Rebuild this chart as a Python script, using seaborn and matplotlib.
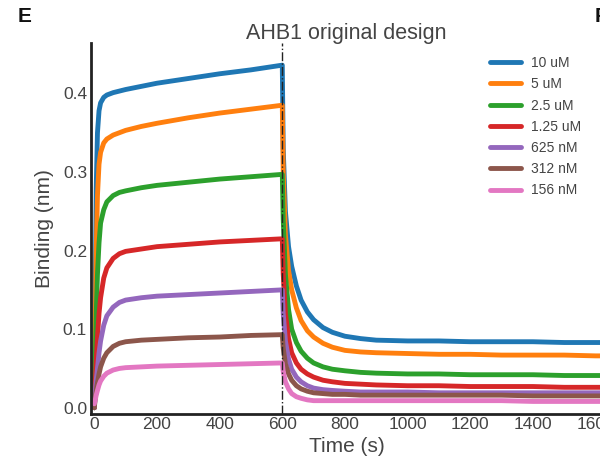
import pandas as pd
import numpy as np
import seaborn as sns
import matplotlib.pyplot as plt

# concentrations, highest first
labels = ["10 uM", "5 uM", "2.5 uM", "1.25 uM", "625 nM", "312 nM", "156 nM"]
colors = ["#1f77b4", "#ff7f0e", "#2ca02c", "#d62728", "#9467bd", "#8c564b", "#e377c2"]

# association phase (s)
assoc_t = [0, 3, 6, 10, 15, 20, 30, 40, 60, 80, 100, 150, 200, 300, 400, 500, 600]
# dissociation phase (s)
dissoc_t = [603, 610, 620, 630, 645, 660, 680, 700, 730, 760, 800, 850, 900,
            1000, 1100, 1200, 1300, 1400, 1500, 1600, 1620]

assoc = {
    "10 uM":   [0.0, 0.15, 0.28, 0.35, 0.378, 0.388, 0.395, 0.398, 0.401, 0.403, 0.405, 0.409, 0.413, 0.419, 0.425, 0.430, 0.436],
    "5 uM":    [0.0, 0.10, 0.20, 0.27, 0.31, 0.325, 0.337, 0.342, 0.347, 0.350, 0.353, 0.358, 0.362, 0.369, 0.375, 0.380, 0.385],
    "2.5 uM":  [0.0, 0.06, 0.12, 0.17, 0.21, 0.235, 0.252, 0.262, 0.270, 0.274, 0.276, 0.280, 0.283, 0.287, 0.291, 0.294, 0.297],
    "1.25 uM": [0.0, 0.03, 0.06, 0.09, 0.12, 0.14, 0.165, 0.178, 0.19, 0.196, 0.199, 0.202, 0.205, 0.208, 0.211, 0.213, 0.215],
    "625 nM":  [0.0, 0.02, 0.035, 0.05, 0.07, 0.085, 0.105, 0.117, 0.128, 0.134, 0.137, 0.140, 0.142, 0.144, 0.146, 0.148, 0.150],
    "312 nM":  [0.0, 0.012, 0.022, 0.032, 0.043, 0.052, 0.063, 0.070, 0.078, 0.082, 0.084, 0.086, 0.087, 0.089, 0.090, 0.092, 0.093],
    "156 nM":  [0.005, 0.01, 0.016, 0.022, 0.029, 0.034, 0.040, 0.044, 0.048, 0.050, 0.051, 0.052, 0.053, 0.054, 0.055, 0.056, 0.057],
}

dissoc = {
    "10 uM":   [0.33, 0.25, 0.205, 0.180, 0.155, 0.137, 0.122, 0.112, 0.102, 0.096, 0.091, 0.088, 0.086, 0.085, 0.085, 0.084, 0.084, 0.084, 0.083, 0.083, 0.083],
    "5 uM":    [0.30, 0.22, 0.175, 0.150, 0.127, 0.111, 0.098, 0.090, 0.082, 0.077, 0.073, 0.071, 0.070, 0.069, 0.068, 0.068, 0.067, 0.067, 0.067, 0.066, 0.066],
    "2.5 uM":  [0.24, 0.17, 0.125, 0.100, 0.083, 0.072, 0.063, 0.057, 0.052, 0.049, 0.047, 0.045, 0.044, 0.043, 0.043, 0.042, 0.042, 0.042, 0.041, 0.041, 0.041],
    "1.25 uM": [0.17, 0.12, 0.088, 0.070, 0.057, 0.049, 0.043, 0.039, 0.035, 0.033, 0.031, 0.030, 0.029, 0.028, 0.028, 0.027, 0.027, 0.027, 0.026, 0.026, 0.026],
    "625 nM":  [0.12, 0.085, 0.062, 0.049, 0.039, 0.033, 0.028, 0.025, 0.023, 0.022, 0.021, 0.020, 0.020, 0.020, 0.019, 0.019, 0.019, 0.019, 0.019, 0.019, 0.019],
    "312 nM":  [0.076, 0.056, 0.043, 0.035, 0.028, 0.024, 0.021, 0.019, 0.018, 0.017, 0.017, 0.016, 0.016, 0.016, 0.016, 0.016, 0.016, 0.015, 0.015, 0.015, 0.015],
    "156 nM":  [0.046, 0.033, 0.024, 0.018, 0.014, 0.012, 0.010, 0.009, 0.009, 0.009, 0.009, 0.009, 0.009, 0.009, 0.009, 0.009, 0.009, 0.008, 0.008, 0.008, 0.008],
}

rows = []
for lab in labels:
    for t, v in zip(assoc_t + dissoc_t, assoc[lab] + dissoc[lab]):
        rows.append({"Time": t, "Binding": v, "Conc": lab})
df = pd.DataFrame(rows)

sns.set_style("white")
plt.rcParams["font.family"] = ["Liberation Sans", "DejaVu Sans"]
text_col = "#444444"

fig = plt.figure(figsize=(6, 4.59), dpi=100)
ax = fig.add_axes([0.152, 0.098, 0.851, 0.808])

sns.lineplot(data=df, x="Time", y="Binding", hue="Conc", hue_order=labels,
             palette=colors, linewidth=3.5, estimator=None, ax=ax)

ax.axvline(600, color="#222222", lw=1, ls="-.", zorder=5)

ax.set_xlim(-10, 1620)
ax.set_ylim(-0.008, 0.464)
ax.set_xticks([0, 200, 400, 600, 800, 1000, 1200, 1400, 1600])
ax.set_yticks([0.0, 0.1, 0.2, 0.3, 0.4])
ax.tick_params(length=0, labelsize=12.5, labelcolor=text_col, pad=2.5)
ax.tick_params(axis="y", pad=3)

for side in ["top", "right"]:
    ax.spines[side].set_visible(False)
for side in ["left", "bottom"]:
    ax.spines[side].set_color("#222222")
    ax.spines[side].set_linewidth(2)

ax.set_xlabel("Time (s)", fontsize=15, color=text_col, labelpad=3)
ax.set_ylabel("Binding (nm)", fontsize=15, color=text_col, labelpad=6)
ax.set_title("AHB1 original design", fontsize=15.5, color=text_col, pad=3)

leg = ax.legend(loc="upper left", bbox_to_anchor=(0.805, 0.893),
                bbox_transform=fig.transFigure, frameon=False, fontsize=10,
                borderpad=0, handlelength=2.2, labelspacing=0.52, handletextpad=0.75)
for line in leg.get_lines():
    line.set_linewidth(3.5)
for txt in leg.get_texts():
    txt.set_color(text_col)

fig.text(0.03, 0.965, "E", fontsize=15, fontweight="bold", va="center", color="#111111")
fig.text(0.991, 0.965, "F", fontsize=15, fontweight="bold", va="center", color="#111111")

plt.savefig("out.png", dpi=100)
